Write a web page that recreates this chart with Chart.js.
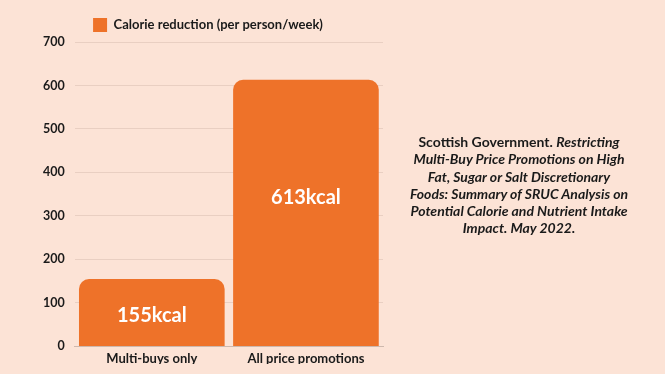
<!DOCTYPE html>
<html>
<head>
<meta charset="utf-8">
<script src="https://cdn.jsdelivr.net/npm/chart.js@4/dist/chart.umd.min.js"></script>
<style>
  html, body { margin: 0; padding: 0; background: #fce3d6; }
  #wrap { position: relative; width: 665px; height: 374px; overflow: hidden; }
  #box { position: absolute; left: 0; top: 0; width: 400px; height: 374px; }
  #note {
    position: absolute; left: 399px; top: 133px; width: 240px;
    font-family: Lato, sans-serif; font-weight: 700; font-size: 14px;
    line-height: 17.3px; color: #1a1a1a; text-align: center; white-space: nowrap;
  }
  #note i { font-style: italic; }
</style>
</head>
<body>
<div id="wrap">
  <div id="box"><canvas id="chart"></canvas></div>
  <div id="note">Scottish Government. <i>Restricting<br>Multi-Buy Price Promotions on High<br>Fat, Sugar or Salt Discretionary<br>Foods: Summary of SRUC Analysis on<br>Potential Calorie and Nutrient Intake<br>Impact. May 2022.</i></div>
</div>
<script>
// Datos del gráfico
const categories = ['Multi-buys only', 'All price promotions'];
const calories = [155, 613];
const valueLabels = ['155kcal', '613kcal'];
const seriesName = 'Calorie reduction (per person/week)';

const orange = '#ee7229';
const textColor = '#1a1a1a';

/**
 * Etiquetas blancas dentro de las barras
 */
const barLabels = {
    id: 'barLabels',
    afterDatasetsDraw(chart) {
        const ctx = chart.ctx;
        const meta = chart.getDatasetMeta(0);
        ctx.save();
        ctx.fillStyle = '#ffffff';
        ctx.font = 'bold 20px Lato, sans-serif';
        ctx.textAlign = 'center';
        ctx.textBaseline = 'middle';
        meta.data.forEach((bar, i) => {
            const mid = (bar.y + bar.base) / 2;
            ctx.fillText(valueLabels[i], bar.x, i === 0 ? mid + 3 : mid - 15);
        });
        ctx.restore();
    }
};

new Chart(document.getElementById('chart'), {
    type: 'bar',
    data: {
        labels: categories,
        datasets: [{
            label: seriesName,
            data: calories,
            backgroundColor: orange,
            borderRadius: { topLeft: 10, topRight: 10 },
            borderSkipped: 'bottom',
            categoryPercentage: 1,
            barPercentage: 0.945
        }]
    },
    options: {
        responsive: true,
        maintainAspectRatio: false,
        animation: false,
        layout: { padding: { left: 33, right: 17, top: 14, bottom: 10 } },
        plugins: {
            legend: {
                position: 'top',
                labels: {
                    color: textColor,
                    font: { family: 'Lato, sans-serif', weight: 'bold', size: 13 },
                    boxWidth: 14,
                    boxHeight: 14,
                    padding: 4
                }
            },
            tooltip: { enabled: false }
        },
        scales: {
            x: {
                grid: { display: false },
                border: { color: '#cdb8ad' },
                ticks: {
                    padding: -3,
                    color: textColor,
                    font: { family: 'Lato, sans-serif', weight: 'bold', size: 13 }
                }
            },
            y: {
                min: 0,
                max: 700,
                border: { display: false },
                grid: { color: '#e9cfc2', drawTicks: false },
                ticks: {
                    stepSize: 100,
                    padding: 10,
                    color: textColor,
                    font: { family: 'Lato, sans-serif', weight: 'bold', size: 12.5 }
                }
            }
        }
    },
    plugins: [barLabels]
});
</script>
</body>
</html>
